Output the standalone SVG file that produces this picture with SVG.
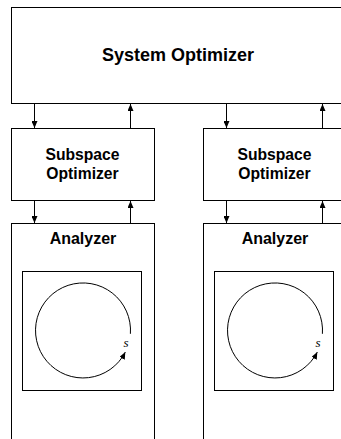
<svg xmlns="http://www.w3.org/2000/svg" width="341" height="439" viewBox="0 0 341 439">
  <style>
    .box { fill: #fff; stroke: #000; stroke-width: 1; }
    .link { fill: none; stroke: #000; stroke-width: 1; marker-end: url(#head); }
    .title { font-family: "Liberation Sans", Arial, sans-serif; font-weight: bold; fill: #000; text-anchor: middle; }
    .var { font-family: "Liberation Serif", "Times New Roman", serif; font-style: italic; font-size: 13px; fill: #000; }
  </style>
  <defs>
    <marker id="head" markerUnits="userSpaceOnUse" markerWidth="7" markerHeight="6" refX="7" refY="3" orient="auto">
      <path d="M0,0 L7,3 L0,6 z" fill="#000"/>
    </marker>
  </defs>
  <rect width="341" height="439" fill="#fff"/>

  <!-- top level -->
  <g id="system-optimizer">
    <rect class="box" x="11.5" y="7.5" width="334" height="96"/>
    <text class="title" x="178" y="61" font-size="18">System Optimizer</text>
  </g>

  <!-- left branch -->
  <g id="subspace-optimizer-1">
    <rect class="box" x="11.5" y="128.5" width="143" height="72"/>
    <text class="title" x="82.5" y="159.5" font-size="15.7">Subspace</text>
    <text class="title" x="82.5" y="178.5" font-size="15.7">Optimizer</text>
  </g>
  <g id="analyzer-1">
    <rect class="box" x="11.5" y="223.5" width="143" height="230"/>
    <text class="title" x="83" y="243.5" font-size="16">Analyzer</text>
    <rect class="box" x="22.5" y="271.5" width="119" height="119"/>
    <path class="link" d="M130.4,333.8 A47.5,47.5 0 1 0 125.3,352.1"/>
    <text class="var" x="123.5" y="347">s</text>
  </g>

  <!-- right branch -->
  <g id="subspace-optimizer-2">
    <rect class="box" x="203.5" y="128.5" width="143" height="72"/>
    <text class="title" x="274.5" y="159.5" font-size="15.7">Subspace</text>
    <text class="title" x="274.5" y="178.5" font-size="15.7">Optimizer</text>
  </g>
  <g id="analyzer-2">
    <rect class="box" x="203.5" y="223.5" width="143" height="230"/>
    <text class="title" x="275" y="243.5" font-size="16">Analyzer</text>
    <rect class="box" x="214.5" y="271.5" width="119" height="119"/>
    <path class="link" d="M322.4,333.8 A47.5,47.5 0 1 0 317.3,352.1"/>
    <text class="var" x="315.5" y="347">s</text>
  </g>

  <!-- connectors between levels -->
  <g id="connectors">
    <path class="link" d="M34.5,103.5 V128"/>
    <path class="link" d="M130.5,128.5 V104"/>
    <path class="link" d="M34.5,200.5 V223"/>
    <path class="link" d="M130.5,223.5 V201"/>
    <path class="link" d="M226.5,103.5 V128"/>
    <path class="link" d="M322.5,128.5 V104"/>
    <path class="link" d="M226.5,200.5 V223"/>
    <path class="link" d="M322.5,223.5 V201"/>
  </g>
</svg>
